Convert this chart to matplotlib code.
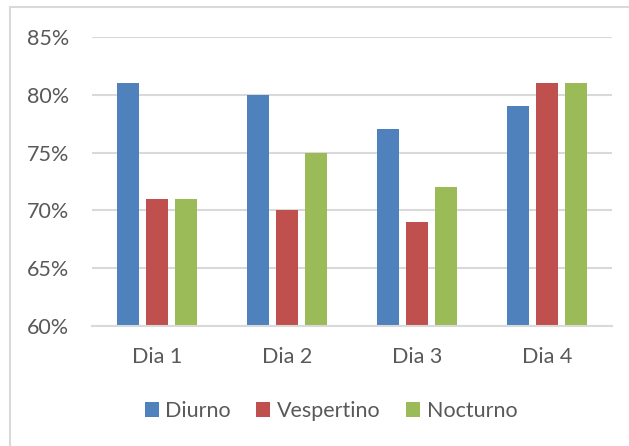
import matplotlib
matplotlib.use("Agg")
import matplotlib.pyplot as plt
from matplotlib.patches import Rectangle
import numpy as np

categories = ["Dia 1", "Dia 2", "Dia 3", "Dia 4"]
series_names = ["Diurno", "Vespertino", "Nocturno"]
diurno = [81, 80, 77, 79]
vespertino = [71, 70, 69, 81]
nocturno = [71, 75, 72, 81]
y_ticks = [60, 65, 70, 75, 80, 85]
colors = ["#4F81BD", "#C0504D", "#9BBB59"]

plt.rcParams["font.family"] = ["Lato", "DejaVu Sans"]
text_color = "#595959"
grid_color = "#D9D9D9"
fs = 15.5

W, H = 629, 446
fig = plt.figure(figsize=(W / 100, H / 100), dpi=100)
ax = fig.add_axes([92 / W, (H - 326) / H, 520 / W, 289 / H])

# outer chart frame
fig.patches.append(Rectangle((10 / W, -0.05), 1.2, (H - 7) / H + 0.05,
                             transform=fig.transFigure, fill=False,
                             edgecolor=grid_color, linewidth=1.5))

x = np.arange(len(categories))
width = 22 / 130
step = 29 / 130
for i, (vals, name) in enumerate(zip([diurno, vespertino, nocturno], series_names)):
    ax.bar(x + (i - 1) * step, vals, width=width, color=colors[i], label=name,
           zorder=3)

ax.set_xlim(-0.5, len(categories) - 0.5)
ax.set_ylim(60, 85)
ax.set_yticks(y_ticks)
ax.set_yticklabels([f"{t}%" for t in y_ticks])
ax.set_xticks(x)
ax.set_xticklabels(categories)
ax.tick_params(axis="both", length=0, labelsize=fs, colors=text_color)
ax.tick_params(axis="y", pad=16.5)
ax.tick_params(axis="x", pad=15)
ax.yaxis.grid(True, color=grid_color, linewidth=1.5, zorder=0)
for side in ["top", "right", "left"]:
    ax.spines[side].set_visible(False)
ax.spines["bottom"].set_color(grid_color)
ax.spines["bottom"].set_linewidth(1.5)
ax.spines["bottom"].set_zorder(4)

leg = fig.legend(loc="center", bbox_to_anchor=(331 / W, (H - 411) / H), ncol=3,
                 frameon=False, fontsize=fs, handlelength=0.65, handleheight=0.65,
                 handletextpad=0.3, columnspacing=1.2, labelcolor=text_color)

fig.savefig("out.png", dpi=100)
